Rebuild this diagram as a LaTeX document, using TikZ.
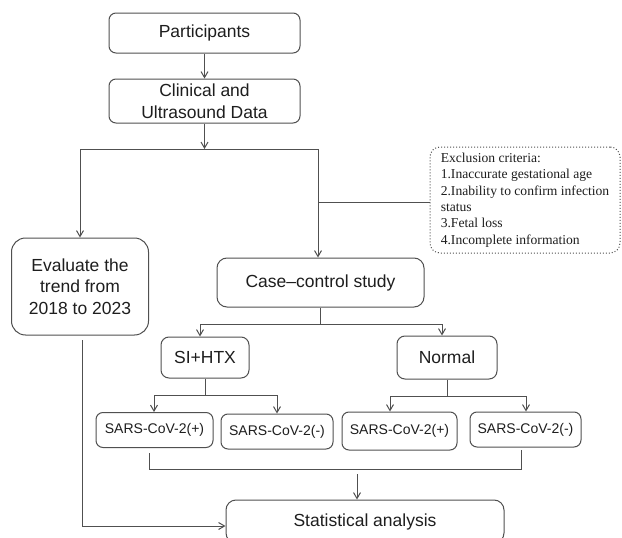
\documentclass[tikz,border=0pt]{standalone}
\usepackage{fontspec}
\setmainfont{Liberation Sans}
\newfontfamily\tnr{Liberation Serif}
\usetikzlibrary{arrows.meta}
\definecolor{ln}{HTML}{505050}
\definecolor{tx}{HTML}{1E1E1E}
\begin{document}
\begin{tikzpicture}[x=1pt,y=-1pt,
  box/.style={draw=ln,line width=1pt,rounded corners=7pt,align=center,text=tx,inner sep=0pt,font=\fontsize{17.5}{22}\selectfont},
  sbox/.style={box,font=\fontsize{14}{17}\selectfont},
  conn/.style={draw=ln,line width=1pt},
  arr/.style={conn,-{Straight Barb[length=6pt,width=7pt]}}]
\useasboundingbox (0,0) rectangle (622,538);
\clip (0,0) rectangle (622,538);
\fill[white] (0,0) rectangle (622,538);
% nodes
\node[box,minimum width=191pt,minimum height=40pt] (part) at (204.5,33) {Participants};
\node[box,minimum width=191pt,minimum height=44pt] (clin) at (204.5,101) {Clinical and\\Ultrasound Data};
\node[box,rounded corners=14pt,minimum width=137pt,minimum height=97pt,font=\fontsize{17.5}{21.5}\selectfont] (eval) at (80,286.5) {Evaluate the\\trend from\\2018 to 2023};
\node[box,rounded corners=10pt,minimum width=207pt,minimum height=49pt] (case) at (320.5,282.5) {Case–control study};
\node[draw=ln,dotted,line width=1pt,rounded corners=10pt,minimum width=190pt,minimum height=106pt,align=left,text=tx,inner sep=0pt,font=\tnr\fontsize{13.6}{16.3}\selectfont] (excl) at (525,200) {Exclusion criteria:\\1.Inaccurate gestational age\\2.Inability to confirm infection\\status\\3.Fetal loss\\4.Incomplete information};
\node[box,rounded corners=8pt,minimum width=88pt,minimum height=41pt] (si) at (205,357.5) {SI+HTX};
\node[box,rounded corners=8pt,minimum width=100pt,minimum height=43pt] (nor) at (447,357.5) {Normal};
\node[sbox,minimum width=117pt,minimum height=35pt] (s1) at (154.5,430) {SARS-CoV-2(+)};
\node[sbox,minimum width=112pt,minimum height=35pt] (s2) at (277,431.5) {SARS-CoV-2(-)};
\node[sbox,minimum width=115pt,minimum height=38pt] (s3) at (399.5,431) {SARS-CoV-2(+)};
\node[sbox,minimum width=111pt,minimum height=35pt] (s4) at (525.5,429.5) {SARS-CoV-2(-)};
\node[box,rounded corners=10pt,minimum width=278pt,minimum height=43pt] (stat) at (365,521.5) {Statistical analysis};
% coordinates
\coordinate (jm) at (204.5,149);
\coordinate (jl) at (80,149);
\coordinate (jr) at (318,149);
\coordinate (ex) at (318,202);
\coordinate (cc) at (320.5,324);
\coordinate (csl) at (200,324);
\coordinate (csr) at (442,324);
\coordinate (sc) at (205,395);
\coordinate (ssl) at (154,395);
\coordinate (ssr) at (277,395);
\coordinate (nc) at (447,396);
\coordinate (nsl) at (390,396);
\coordinate (nsr) at (526,396);
\coordinate (b1) at (149,453);
\coordinate (b2) at (149,469);
\coordinate (b3) at (521,469);
\coordinate (b4) at (521,450);
\coordinate (ba) at (357,474);
\coordinate (l1) at (82,340);
\coordinate (l2) at (82,526);
% connectors
\draw[arr] (part) -- (clin);
\draw[arr] (clin.south) -- (jm);
\draw[conn] (jl) -- (jr);
\draw[arr] (jl) -- (eval.north);
\draw[arr] (jr) -- (jr |- case.north);
\draw[conn] (ex) -- (ex -| excl.west);
\draw[conn] (case.south) -- (cc);
\draw[conn] (csl) -- (csr);
\draw[arr] (csl) -- (csl |- si.north);
\draw[arr] (csr) -- (csr |- nor.north);
\draw[conn] (si.south) -- (sc);
\draw[conn] (ssl) -- (ssr);
\draw[arr] (ssl) -- (ssl |- s1.north);
\draw[arr] (ssr) -- (ssr |- s2.north);
\draw[conn] (nor.south) -- (nc);
\draw[conn] (nsl) -- (nsr);
\draw[arr] (nsl) -- (nsl |- s3.north);
\draw[arr] (nsr) -- (nsr |- s4.north);
\draw[conn] (b1) -- (b2) -- (b3) -- (b4);
\draw[arr] (ba) -- (ba |- stat.north);
\draw[conn] (l1) -- (l2);
\draw[arr] (l2) -- (l2 -| stat.west);
\end{tikzpicture}
\end{document}
